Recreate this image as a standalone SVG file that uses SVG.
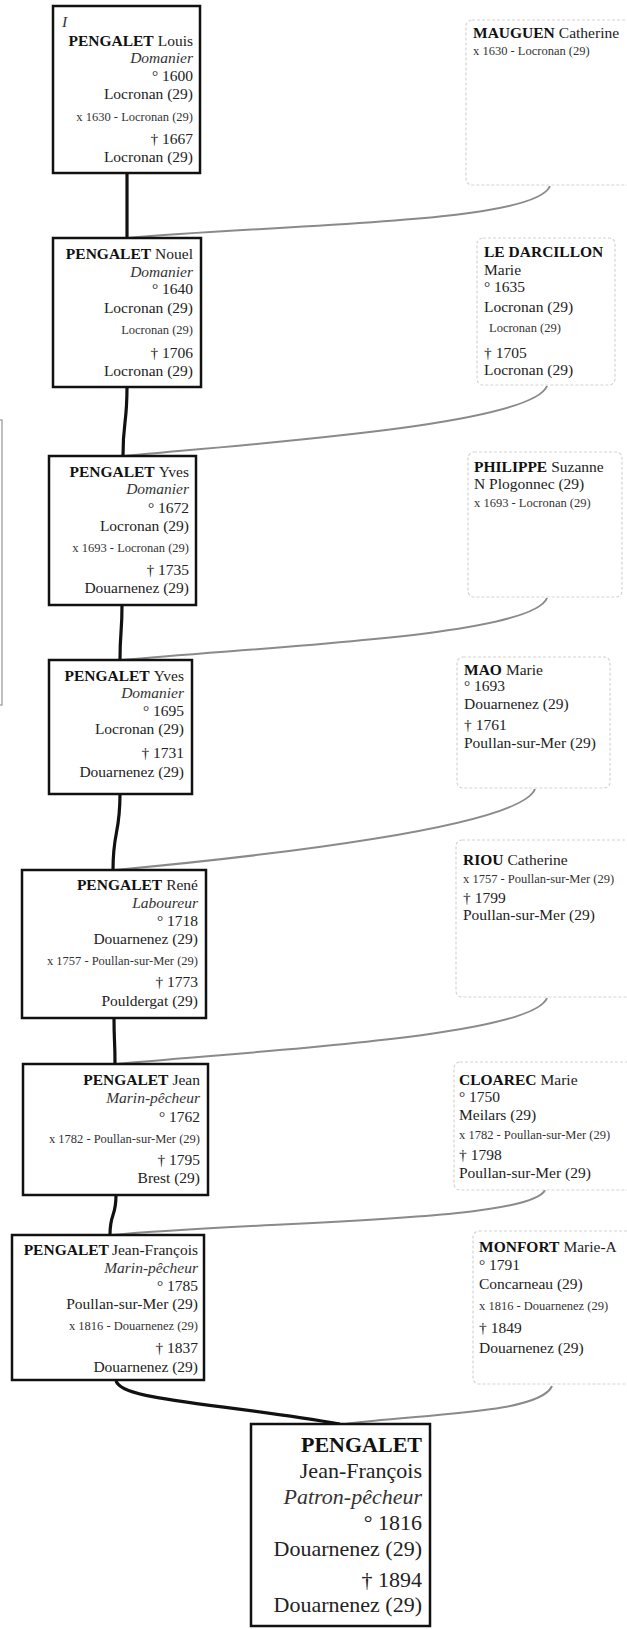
<svg xmlns="http://www.w3.org/2000/svg" width="627" height="1629" viewBox="0 0 627 1629">
<style>
text{font-family:"Liberation Serif","Times New Roman",serif;fill:#222;font-size:15.5px}
.r{text-anchor:end}
.b{font-weight:bold;fill:#111}
.i{font-style:italic;fill:#333}
.s{font-size:12.5px;fill:#333}
.main{fill:#fff;stroke:#111;stroke-width:2.5}
.sp{fill:#fff;stroke:#d4d4d4;stroke-width:1.2;stroke-dasharray:3 2}
.big{font-size:22px}
.lk{fill:none;stroke:#111;stroke-width:3.2}
.gl{fill:none;stroke:#8a8a8a;stroke-width:2}
</style>
<g id="connectors">
<path class="lk" d="M127,173 L127,238"/>
<path class="lk" d="M127,387 C127,425 123,420 123,456"/>
<path class="lk" d="M122,605 C122,635 120,630 120,660"/>
<path class="lk" d="M120,794 C120,835 113,830 113,870"/>
<path class="lk" d="M114,1018 C114,1042 115,1040 115,1064"/>
<path class="lk" d="M116,1195 C116,1218 110,1212 110,1235"/>
<path class="lk" d="M116,1380 C118,1400 210,1402 340,1424"/>
<path class="gl" d="M550,186 C535,224 278,224 128,238"/>
<path class="gl" d="M547,386 C532,424 274,442 124,456"/>
<path class="gl" d="M547,598 C532,636 272,646 122,660"/>
<path class="gl" d="M535,789 C520,827 265,856 115,870"/>
<path class="gl" d="M547,998 C532,1036 267,1050 117,1064"/>
<path class="gl" d="M545,1190 C530,1222 262,1221 112,1235"/>
<path class="gl" d="M552,1386 C540,1414 420,1414 345,1424"/>
</g>
<path d="M0,420 H2 V705 H0" fill="none" stroke="#aaa" stroke-width="1.5"/>
<g id="p1">
<rect class="main" x="53" y="6" width="147" height="167"/>
<text class="i" x="62" y="27">I</text>
<text class="r" x="193" y="46"><tspan class="b">PENGALET</tspan><tspan dx="4">Louis</tspan></text>
<text class="r i" x="193" y="63">Domanier</text>
<text class="r" x="193" y="81">° 1600</text>
<text class="r" x="193" y="99">Locronan (29)</text>
<text class="r s" x="193" y="121">x 1630  - Locronan (29)</text>
<text class="r" x="193" y="144">† 1667</text>
<text class="r" x="193" y="162">Locronan (29)</text>
</g>
<g id="s1">
<rect class="sp" x="466" y="20" width="170" height="165" rx="6"/>
<text x="473" y="38"><tspan class="b">MAUGUEN</tspan><tspan dx="4">Catherine</tspan></text>
<text class="s" x="473" y="55">x 1630  - Locronan (29)</text>
</g>
<g id="p2">
<rect class="main" x="53" y="238" width="148" height="149"/>
<text class="r" x="193" y="259"><tspan class="b">PENGALET</tspan><tspan dx="4">Nouel</tspan></text>
<text class="r i" x="193" y="277">Domanier</text>
<text class="r" x="193" y="294">° 1640</text>
<text class="r" x="193" y="313">Locronan (29)</text>
<text class="r s" x="193" y="334">Locronan (29)</text>
<text class="r" x="193" y="358">† 1706</text>
<text class="r" x="193" y="376">Locronan (29)</text>
</g>
<g id="s2">
<rect class="sp" x="477" y="238" width="138" height="147" rx="6"/>
<text class="b" x="484" y="257">LE DARCILLON</text>
<text x="484" y="275">Marie</text>
<text x="484" y="292">° 1635</text>
<text x="484" y="312">Locronan (29)</text>
<text class="s" x="489" y="332">Locronan (29)</text>
<text x="484" y="358">† 1705</text>
<text x="484" y="375">Locronan (29)</text>
</g>
<g id="p3">
<rect class="main" x="49" y="456" width="147" height="149"/>
<text class="r" x="189" y="477"><tspan class="b">PENGALET</tspan><tspan dx="4">Yves</tspan></text>
<text class="r i" x="189" y="494">Domanier</text>
<text class="r" x="189" y="513">° 1672</text>
<text class="r" x="189" y="531">Locronan (29)</text>
<text class="r s" x="189" y="552">x 1693  - Locronan (29)</text>
<text class="r" x="189" y="575">† 1735</text>
<text class="r" x="189" y="593">Douarnenez (29)</text>
</g>
<g id="s3">
<rect class="sp" x="468" y="452" width="154" height="145" rx="6"/>
<text x="474" y="472"><tspan class="b">PHILIPPE</tspan><tspan dx="4">Suzanne</tspan></text>
<text x="474" y="489">N Plogonnec (29)</text>
<text class="s" x="474" y="507">x 1693  - Locronan (29)</text>
</g>
<g id="p4">
<rect class="main" x="49" y="660" width="143" height="134"/>
<text class="r" x="184" y="681"><tspan class="b">PENGALET</tspan><tspan dx="4">Yves</tspan></text>
<text class="r i" x="184" y="698">Domanier</text>
<text class="r" x="184" y="716">° 1695</text>
<text class="r" x="184" y="734">Locronan (29)</text>
<text class="r" x="184" y="758">† 1731</text>
<text class="r" x="184" y="777">Douarnenez (29)</text>
</g>
<g id="s4">
<rect class="sp" x="457" y="657" width="153" height="131" rx="6"/>
<text x="464" y="675"><tspan class="b">MAO</tspan><tspan dx="4">Marie</tspan></text>
<text x="464" y="691">° 1693</text>
<text x="464" y="709">Douarnenez (29)</text>
<text x="464" y="730">† 1761</text>
<text x="464" y="748">Poullan-sur-Mer (29)</text>
</g>
<g id="p5">
<rect class="main" x="22" y="870" width="184" height="148"/>
<text class="r" x="198" y="890"><tspan class="b">PENGALET</tspan><tspan dx="4">René</tspan></text>
<text class="r i" x="198" y="908">Laboureur</text>
<text class="r" x="198" y="926">° 1718</text>
<text class="r" x="198" y="944">Douarnenez (29)</text>
<text class="r s" x="198" y="965">x 1757  - Poullan-sur-Mer (29)</text>
<text class="r" x="198" y="987">† 1773</text>
<text class="r" x="198" y="1006">Pouldergat (29)</text>
</g>
<g id="s5">
<rect class="sp" x="456" y="840" width="180" height="157" rx="6"/>
<text x="463" y="865"><tspan class="b">RIOU</tspan><tspan dx="4">Catherine</tspan></text>
<text class="s" x="463" y="883">x 1757  - Poullan-sur-Mer (29)</text>
<text x="463" y="903">† 1799</text>
<text x="463" y="920">Poullan-sur-Mer (29)</text>
</g>
<g id="p6">
<rect class="main" x="23" y="1064" width="185" height="131"/>
<text class="r" x="200" y="1085"><tspan class="b">PENGALET</tspan><tspan dx="4">Jean</tspan></text>
<text class="r i" x="200" y="1103">Marin-pêcheur</text>
<text class="r" x="200" y="1122">° 1762</text>
<text class="r s" x="200" y="1143">x 1782  - Poullan-sur-Mer (29)</text>
<text class="r" x="200" y="1165">† 1795</text>
<text class="r" x="200" y="1183">Brest (29)</text>
</g>
<g id="s6">
<rect class="sp" x="454" y="1062" width="182" height="128" rx="6"/>
<text x="459" y="1085"><tspan class="b">CLOAREC</tspan><tspan dx="4">Marie</tspan></text>
<text x="459" y="1102">° 1750</text>
<text x="459" y="1120">Meilars (29)</text>
<text class="s" x="459" y="1139">x 1782  - Poullan-sur-Mer (29)</text>
<text x="459" y="1160">† 1798</text>
<text x="459" y="1178">Poullan-sur-Mer (29)</text>
</g>
<g id="p7">
<rect class="main" x="12" y="1235" width="192" height="145"/>
<text class="r" x="198" y="1255"><tspan class="b">PENGALET</tspan><tspan dx="3">Jean-François</tspan></text>
<text class="r i" x="198" y="1273">Marin-pêcheur</text>
<text class="r" x="198" y="1291">° 1785</text>
<text class="r" x="198" y="1309">Poullan-sur-Mer (29)</text>
<text class="r s" x="198" y="1330">x 1816  - Douarnenez (29)</text>
<text class="r" x="198" y="1353">† 1837</text>
<text class="r" x="198" y="1372">Douarnenez (29)</text>
</g>
<g id="s7">
<rect class="sp" x="473" y="1231" width="163" height="153" rx="6"/>
<text x="479" y="1252"><tspan class="b">MONFORT</tspan><tspan dx="4">Marie-A</tspan></text>
<text x="479" y="1270">° 1791</text>
<text x="479" y="1289">Concarneau (29)</text>
<text class="s" x="479" y="1310">x 1816  - Douarnenez (29)</text>
<text x="479" y="1333">† 1849</text>
<text x="479" y="1353">Douarnenez (29)</text>
</g>
<g id="p8">
<rect class="main" x="251" y="1424" width="179" height="202"/>
<text class="r big b" x="422" y="1452">PENGALET</text>
<text class="r big" x="422" y="1478">Jean-François</text>
<text class="r big i" x="422" y="1504">Patron-pêcheur</text>
<text class="r big" x="422" y="1530">° 1816</text>
<text class="r big" x="422" y="1556">Douarnenez (29)</text>
<text class="r big" x="422" y="1587">† 1894</text>
<text class="r big" x="422" y="1612">Douarnenez (29)</text>
</g>
</svg>
